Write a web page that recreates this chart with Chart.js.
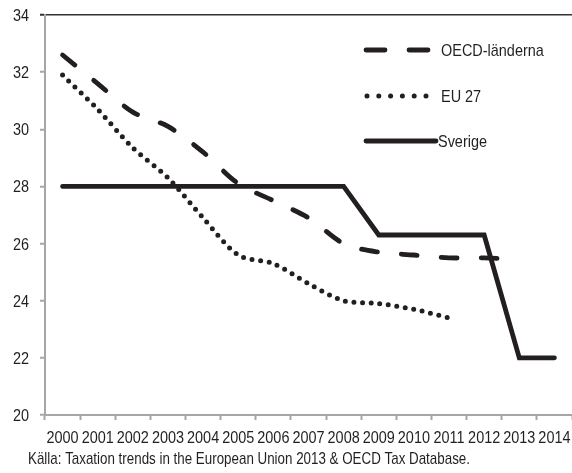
<!DOCTYPE html>
<html>
<head>
<meta charset="utf-8">
<script src="https://cdn.jsdelivr.net/npm/chart.js@4/dist/chart.umd.min.js"></script>
<style>
  html, body { margin: 0; padding: 0; background: #fff; }
  #wrap { position: relative; width: 572px; height: 473px; }
</style>
</head>
<body>
<div id="wrap"><canvas id="c" width="572" height="473"></canvas></div>
<script>
// Years on the category axis
const years = ['2000','2001','2002','2003','2004','2005','2006','2007','2008','2009','2010','2011','2012','2013','2014'];

// Corporate tax rate, percent
const oecd    = [32.6, 31.6, 30.6, 30.1, 29.2, 28.1, 27.5, 26.9, 26.0, 25.7, 25.6, 25.5, 25.5, 25.45, null];
const eu27    = [31.9, 30.7, 29.35, 28.3, 26.9, 25.6, 25.3, 24.6, 24.0, 23.9, 23.7, 23.4, null, null, null];
const sverige = [28, 28, 28, 28, 28, 28, 28, 28, 28, 26.3, 26.3, 26.3, 26.3, 22, 22];

const seriesNames = ['OECD-länderna', 'EU 27', 'Sverige'];
const sourceText = 'Källa: Taxation trends in the European Union 2013 & OECD Tax Database.';

const FONT = '17px "Liberation Sans", Arial, sans-serif';
const NARROW = 0.85;          // horizontal squeeze for a condensed look
const INK = '#231f20';

// Draws one line of condensed text with its baseline at y
function narrowText(ctx, text, x, y, align, squeeze) {
  ctx.save();
  ctx.translate(x, y);
  ctx.scale(squeeze || NARROW, 1);
  ctx.font = FONT;
  ctx.fillStyle = INK;
  ctx.textAlign = align;
  ctx.textBaseline = 'alphabetic';
  ctx.fillText(text, 0, 0);
  ctx.restore();
}

// Tick labels, legend and source line, all in condensed type
const textPlugin = {
  id: 'condensedText',
  afterDraw(chart) {
    const ctx = chart.ctx;
    const xs = chart.scales.x, ys = chart.scales.y;

    xs.ticks.forEach((t, i) => {
      narrowText(ctx, xs.getLabelForValue(t.value), xs.getPixelForTick(i), 443, 'center');
    });
    ys.ticks.forEach(t => {
      narrowText(ctx, String(t.value), 29, ys.getPixelForValue(t.value) + 6, 'right');
    });

    const rows = [
      { label: seriesNames[0], y: 50, x0: 366, x1: 428, dash: [19, 24], w: 4.8, tx: 441 },
      { label: seriesNames[1], y: 96, x0: 367, x1: 427, dash: [0, 11.8], w: 5, tx: 441 },
      { label: seriesNames[2], y: 141, x0: 366, x1: 436, dash: [], w: 4.8, tx: 438 }
    ];
    ctx.save();
    rows.forEach(r => {
      ctx.beginPath();
      ctx.setLineDash(r.dash);
      ctx.lineCap = 'round';
      ctx.lineWidth = r.w;
      ctx.strokeStyle = INK;
      ctx.moveTo(r.x0, r.y);
      ctx.lineTo(r.x1, r.y);
      ctx.stroke();
    });
    ctx.restore();
    rows.forEach(r => narrowText(ctx, r.label, r.tx, r.y + 6, 'left'));

    narrowText(ctx, sourceText, 28, 464, 'left', 0.786);
  }
};

new Chart(document.getElementById('c'), {
  type: 'line',
  data: {
    labels: years,
    datasets: [
      {
        label: seriesNames[0],
        data: oecd,
        borderColor: INK,
        borderWidth: 4.8,
        borderDash: [16, 24],
        borderCapStyle: 'round',
        tension: 0.3,
        pointRadius: 0,
        fill: false
      },
      {
        label: seriesNames[1],
        data: eu27,
        borderColor: INK,
        borderWidth: 5,
        borderDash: [0, 8.6],
        borderCapStyle: 'round',
        tension: 0.3,
        pointRadius: 0,
        fill: false
      },
      {
        label: seriesNames[2],
        data: sverige,
        borderColor: INK,
        borderWidth: 4.8,
        borderCapStyle: 'round',
        borderJoinStyle: 'miter',
        tension: 0,
        pointRadius: 0,
        fill: false
      }
    ]
  },
  options: {
    responsive: false,
    animation: false,
    layout: { padding: { top: 15, right: 0, left: 0, bottom: 0 } },
    plugins: {
      legend: { display: false },
      tooltip: { enabled: false }
    },
    scales: {
      x: {
        type: 'category',
        offset: true,
        grid: {
          offset: true,
          drawOnChartArea: false,
          tickLength: 5,
          tickColor: '#a6a6a6',
          tickWidth: 2
        },
        border: { color: '#a6a6a6', width: 2 },
        ticks: { display: false, autoSkip: false },
        afterFit(scale) { scale.height = 58; }
      },
      y: {
        min: 20,
        max: 34,
        grid: {
          drawOnChartArea: true,
          color: c => (c.tick && c.tick.value === 34) ? '#333333' : 'rgba(0,0,0,0)',
          lineWidth: 1.5,
          tickLength: 5,
          tickColor: c => (c.tick && c.tick.value === 34) ? '#333333' : '#a6a6a6',
          tickWidth: 2
        },
        border: { color: '#a6a6a6', width: 2 },
        ticks: { display: false, stepSize: 2 },
        afterFit(scale) { scale.width = 45; }
      }
    }
  },
  plugins: [textPlugin]
});
</script>
</body>
</html>
